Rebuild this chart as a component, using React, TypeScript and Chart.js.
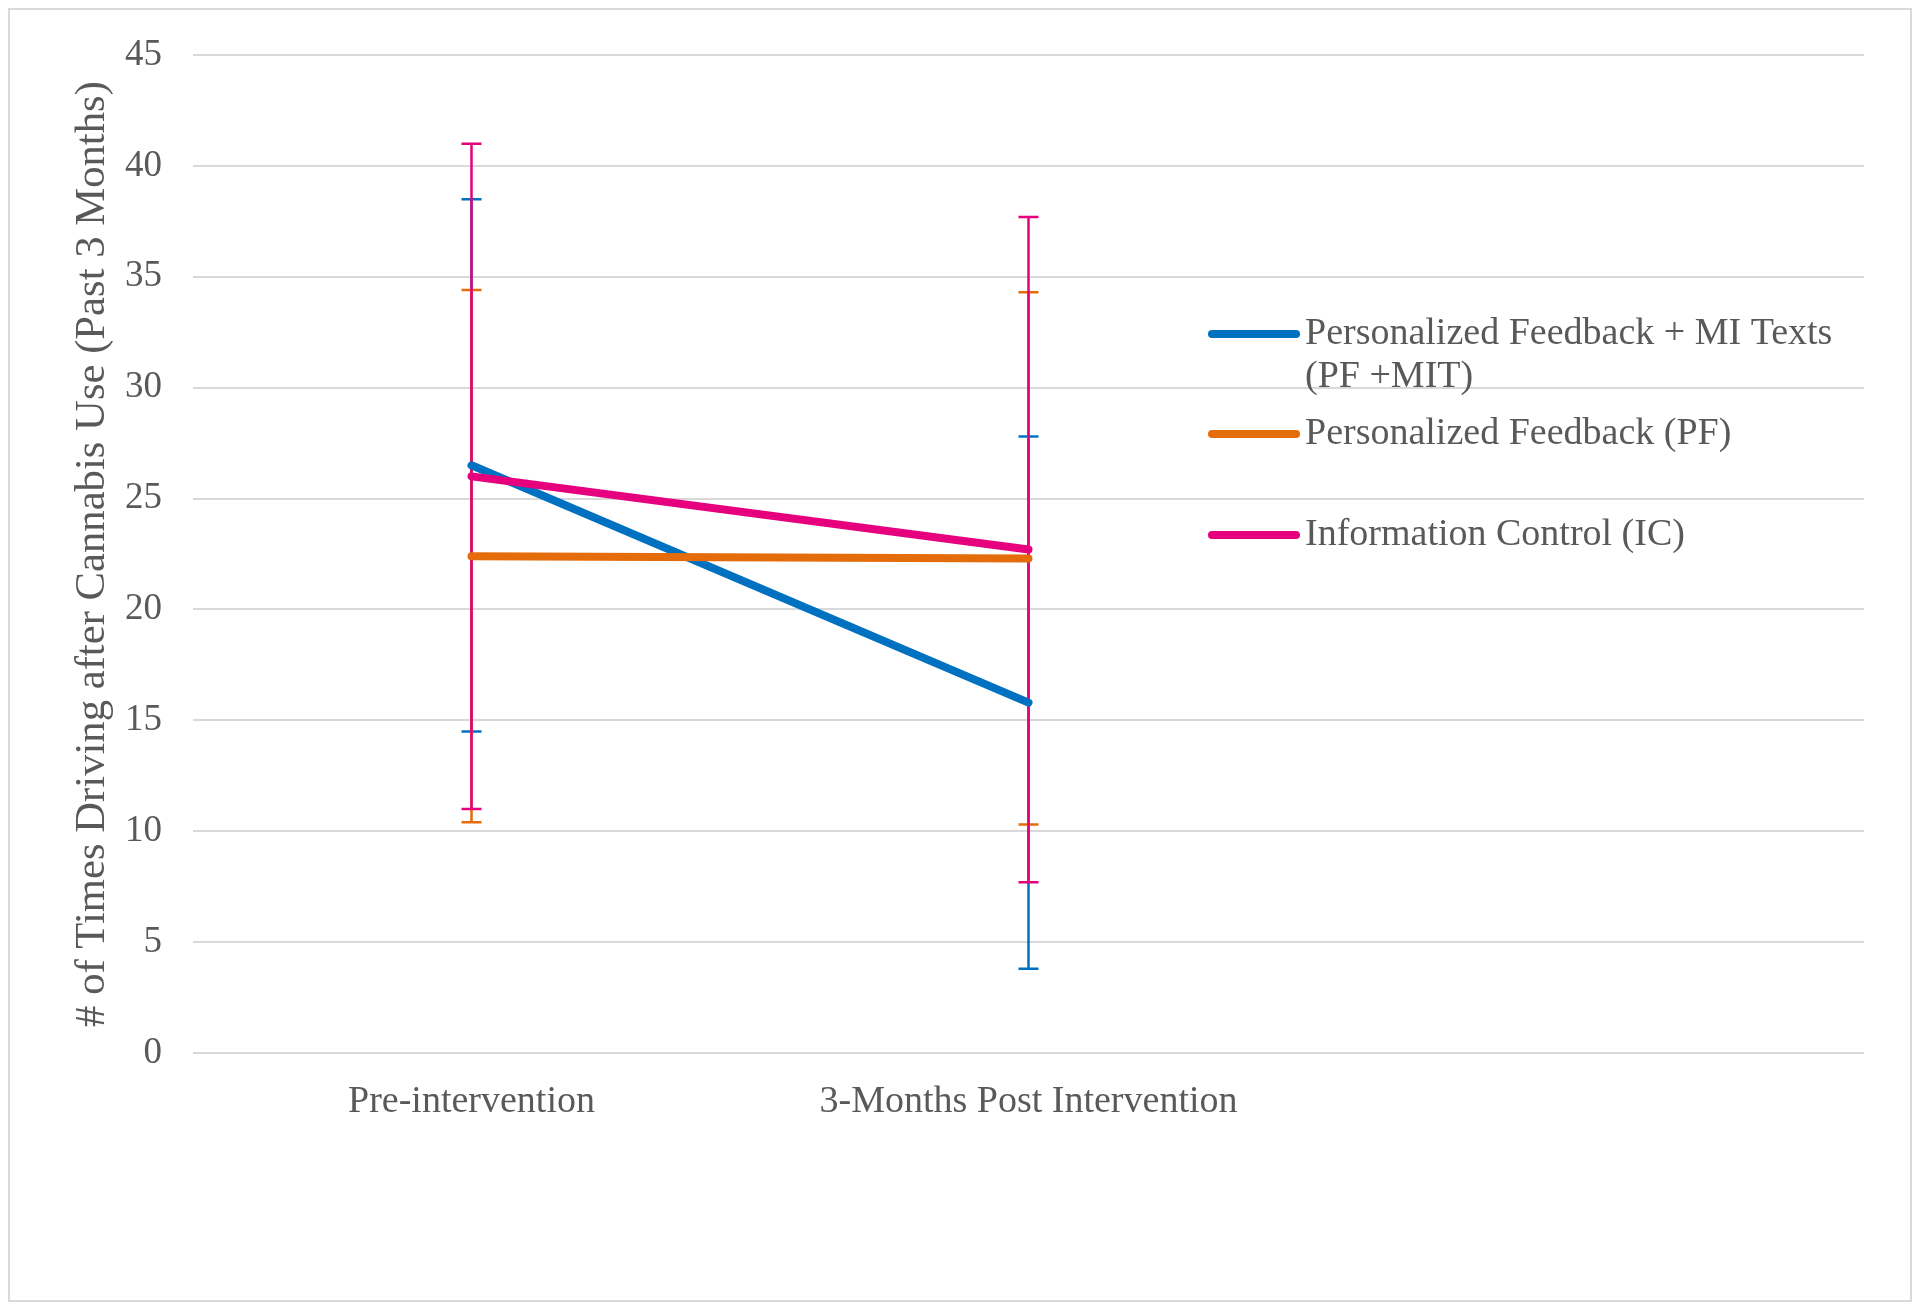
import React, { useEffect, useRef } from "react";
import { Chart, registerables } from "chart.js";

Chart.register(...registerables);

// ---- Data ----
const categories = ["Pre-intervention", "3-Months Post Intervention", ""];
const seriesNames = [
  "Personalized Feedback + MI Texts (PF +MIT)",
  "Personalized Feedback (PF)",
  "Information Control (IC)",
];
const legendLines = [
  ["Personalized Feedback + MI Texts", "(PF +MIT)"],
  ["Personalized Feedback (PF)"],
  ["Information Control (IC)"],
];
const pfMitMeans = [26.5, 15.8];
const pfMeans = [22.4, 22.3];
const icMeans = [26.0, 22.7];
const pfMitUpper = [38.5, 27.8];
const pfMitLower = [14.5, 3.8];
const pfUpper = [34.4, 34.3];
const pfLower = [10.4, 10.3];
const icUpper = [41.0, 37.7];
const icLower = [11.0, 7.7];
const yMin = 0;
const yMax = 45;
const yStep = 5;
const yTitle = "# of Times Driving after Cannabis Use (Past 3 Months)";

const colors = ["#0070C0", "#E46C0A", "#E6007E"];
const FONT = "'Liberation Serif', 'Times New Roman', serif";
const TEXT = "#595959";

const upperSets = [pfMitUpper, pfUpper, icUpper];
const lowerSets = [pfMitLower, pfLower, icLower];

const errorBarPlugin = {
  id: "errorBars",
  beforeDatasetsDraw(chart: any) {
    const ctx = chart.ctx;
    const xs = chart.scales.x;
    const ys = chart.scales.y;
    ctx.save();
    for (let d = 0; d < upperSets.length; d++) {
      const up = upperSets[d];
      const lo = lowerSets[d];
      ctx.strokeStyle = colors[d];
      ctx.lineWidth = 2.5;
      ctx.lineCap = "butt";
      for (let i = 0; i < up.length; i++) {
        const x = xs.getPixelForValue(i);
        const yt = ys.getPixelForValue(up[i]);
        const yb = ys.getPixelForValue(lo[i]);
        const cap = 10;
        ctx.beginPath();
        ctx.moveTo(x, yt);
        ctx.lineTo(x, yb);
        ctx.moveTo(x - cap, yt);
        ctx.lineTo(x + cap, yt);
        ctx.moveTo(x - cap, yb);
        ctx.lineTo(x + cap, yb);
        ctx.stroke();
      }
    }
    ctx.restore();
  },
};

const legendPlugin = {
  id: "customLegend",
  afterDraw(chart: any) {
    const ctx = chart.ctx;
    const area = chart.chartArea;
    const lineX0 = area.left + 1019;
    const lineX1 = area.left + 1103;
    const textX = area.left + 1112;
    const rowY = [area.top + 279, area.top + 379, area.top + 480];
    const lineGap = 43;
    ctx.save();
    ctx.font = `38px ${FONT}`;
    ctx.textBaseline = "middle";
    ctx.textAlign = "left";
    for (let i = 0; i < legendLines.length; i++) {
      const y = rowY[i];
      ctx.strokeStyle = colors[i];
      ctx.lineWidth = 8;
      ctx.lineCap = "round";
      ctx.beginPath();
      ctx.moveTo(lineX0, y);
      ctx.lineTo(lineX1, y);
      ctx.stroke();
      ctx.fillStyle = TEXT;
      legendLines[i].forEach((t, j) => {
        ctx.fillText(t, textX, y + j * lineGap);
      });
    }
    ctx.restore();
  },
};

export default function App() {
  const ref = useRef<HTMLCanvasElement | null>(null);

  useEffect(() => {
    if (!ref.current) return;
    const meansSets = [pfMitMeans, pfMeans, icMeans];
    const chart = new Chart(ref.current, {
      type: "line",
      data: {
        labels: categories,
        datasets: meansSets.map((m, i) => ({
          label: seriesNames[i],
          data: m,
          borderColor: colors[i],
          backgroundColor: colors[i],
          borderWidth: 8,
          borderCapStyle: "round" as const,
          borderJoinStyle: "round" as const,
          pointRadius: 0,
          pointHoverRadius: 0,
          tension: 0,
          fill: false,
          order: 3 - i,
        })),
      },
      options: {
        responsive: false,
        animation: false,
        devicePixelRatio: 1,
        layout: { padding: { top: 45, right: 46, bottom: 0, left: 0 } },
        plugins: {
          legend: { display: false },
          tooltip: { enabled: false },
        },
        scales: {
          x: {
            type: "category",
            offset: true,
            grid: { display: false, drawTicks: false },
            border: { display: false },
            ticks: {
              color: TEXT,
              font: { family: FONT, size: 38 },
              padding: 26,
              maxRotation: 0,
              autoSkip: false,
            },
            afterFit: (scale: any) => {
              scale.height = 247;
              scale.paddingLeft = 0;
              scale.paddingRight = 0;
            },
          },
          y: {
            min: yMin,
            max: yMax,
            grid: { color: "#D9D9D9", lineWidth: 2, drawTicks: false },
            border: { display: false },
            ticks: {
              stepSize: yStep,
              color: TEXT,
              font: { family: FONT, size: 37 },
              padding: 31,
            },
            title: {
              display: true,
              text: yTitle,
              color: TEXT,
              font: { family: FONT, size: 42.7, weight: "normal" },
              padding: { top: 57, bottom: 0 },
            },
            afterFit: (scale: any) => {
              scale.width = 183;
              scale.paddingTop = 0;
              scale.paddingBottom = 0;
            },
          },
        },
      },
      plugins: [errorBarPlugin, legendPlugin],
    });
    return () => chart.destroy();
  }, []);

  return (
    <div
      style={{
        width: 1904,
        height: 1294,
        boxSizing: "border-box",
        border: "2px solid #D9D9D9",
        background: "#fff",
      }}
    >
      <canvas ref={ref} width={1900} height={1290} style={{ display: "block" }} />
    </div>
  );
}
